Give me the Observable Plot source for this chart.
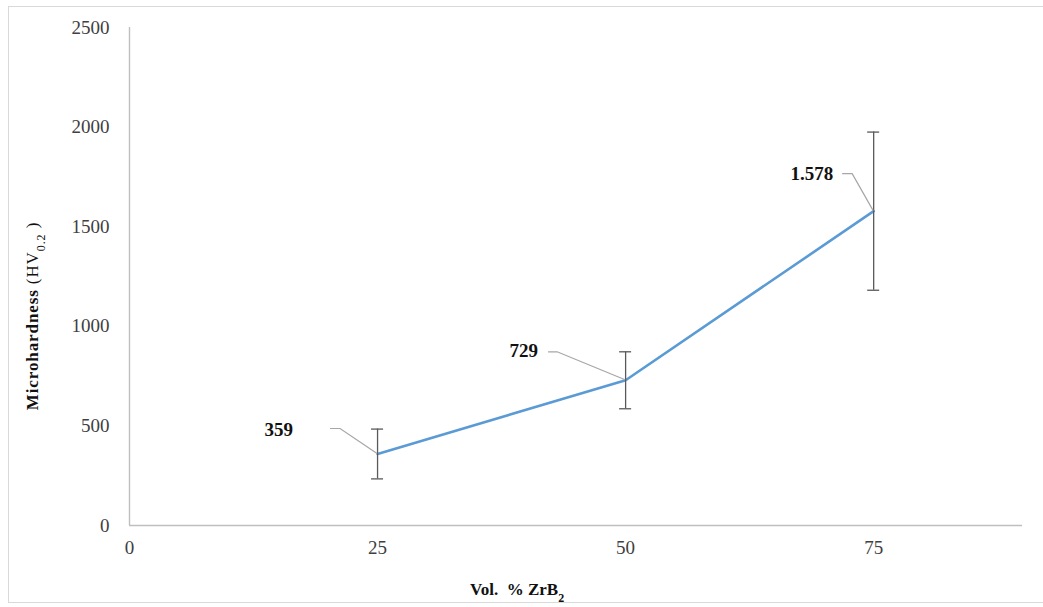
<!DOCTYPE html>
<html>
<head>
<meta charset="utf-8">
<script src="https://cdn.jsdelivr.net/npm/d3@7"></script>
<script src="https://cdn.jsdelivr.net/npm/@observablehq/plot@0.6"></script>
<style>
  html, body { margin: 0; padding: 0; background: #fff; overflow: hidden; }
  #wrap { position: relative; width: 1043px; height: 607px; }
  #frame { position: absolute; left: 8px; top: 6px; width: 1100px; height: 597px; border: 1.5px solid #d9d9d9; box-sizing: border-box; }
  #chart { position: absolute; left: 0; top: 0; }
</style>
</head>
<body>
<div id="wrap"><div id="frame"></div><div id="chart"></div></div>
<script>
// ---- data ----
const volPct = [25, 50, 75];
const hardness = [359, 729, 1578];
const hardnessErr = [125, 143, 397];
const valueLabels = ["359", "729", "1.578"];
const xTickValues = [0, 25, 50, 75];
const yTickValues = [0, 500, 1000, 1500, 2000, 2500];

const data = volPct.map((v, i) => ({
  x: v, y: hardness[i], lo: hardness[i] - hardnessErr[i], hi: hardness[i] + hardnessErr[i], label: valueLabels[i]
}));

// label/leader layout offsets (pixels, relative to each point)
const leaderLayout = [
  {h0: -47, h1: -37, dy: -25, tx: -84, ty: -24},
  {h0: -77, h1: -68, dy: -28, tx: -87, ty: -29},
  {h0: -31, h1: -21, dy: -37, tx: -40, ty: -37}
];

const plot = Plot.plot({
  width: 1043,
  height: 607,
  marginLeft: 129,
  marginRight: 21,
  marginTop: 27,
  marginBottom: 82,
  style: { fontFamily: "'Liberation Serif', 'DejaVu Serif', serif", fontSize: "19px", color: "#404040", background: "transparent" },
  x: { domain: [0, 90] },
  y: { domain: [0, 2500] },
  marks: [
    Plot.axisX({ ticks: xTickValues, tickSize: 0, tickPadding: 15, label: null, tickFormat: d3.format("d"), fontSize: 19 }),
    Plot.axisY({ ticks: yTickValues, tickSize: 0, tickPadding: 20, label: null, tickFormat: d3.format("d"), fontSize: 19 }),
    Plot.ruleY([0], { stroke: "#bfbfbf", strokeWidth: 1.4 }),
    Plot.ruleX([0], { stroke: "#bfbfbf", strokeWidth: 1.4 }),
    Plot.line(data, { x: "x", y: "y", stroke: "#5b9bd5", strokeWidth: 2.6 }),
    Plot.ruleX(data, { x: "x", y1: "lo", y2: "hi", stroke: "#595959", strokeWidth: 1.3 }),
    Plot.ruleY(data, { y: "hi", x1: "x", x2: "x", insetLeft: -6, insetRight: -6, stroke: "#595959", strokeWidth: 1.3 }),
    Plot.ruleY(data, { y: "lo", x1: "x", x2: "x", insetLeft: -6, insetRight: -6, stroke: "#595959", strokeWidth: 1.3 })
  ]
});

document.getElementById("chart").appendChild(plot);

const svg = d3.select(plot);
const sx = plot.scale("x"), sy = plot.scale("y");

// leader lines and value labels
data.forEach((d, i) => {
  const px = sx.apply(d.x), py = sy.apply(d.y), L = leaderLayout[i];
  svg.append("path")
    .attr("d", `M${px + L.h0},${py + L.dy}L${px + L.h1},${py + L.dy}L${px},${py}`)
    .attr("fill", "none").attr("stroke", "#a6a6a6").attr("stroke-width", 1.2);
  svg.append("text")
    .attr("x", px + L.tx).attr("y", py + L.ty).attr("dy", "0.35em")
    .attr("text-anchor", "end")
    .attr("font-family", "'Liberation Serif', serif")
    .attr("font-weight", "bold").attr("font-size", 19).attr("fill", "#111")
    .text(d.label);
});

// y axis title
const yt = svg.append("text")
  .attr("transform", "translate(38,316) rotate(-90)")
  .attr("text-anchor", "middle")
  .attr("font-family", "'Liberation Serif', serif")
  .attr("font-size", 17).attr("letter-spacing", "0.9px").attr("fill", "#111");
yt.append("tspan").attr("font-weight", "bold").text("Microhardness");
yt.append("tspan").text(" (HV");
yt.append("tspan").attr("font-size", 12).attr("baseline-shift", "sub").text("0.2");
yt.append("tspan").text(" )");

// x axis title
const xt = svg.append("text")
  .attr("x", 470).attr("y", 595)
  .attr("text-anchor", "start")
  .attr("font-family", "'Liberation Serif', serif")
  .attr("font-size", 17).attr("font-weight", "bold").attr("fill", "#111");
xt.append("tspan").text("Vol.  % ZrB");
xt.append("tspan").attr("font-size", 12).attr("baseline-shift", "sub").text("2");
</script>
</body>
</html>
